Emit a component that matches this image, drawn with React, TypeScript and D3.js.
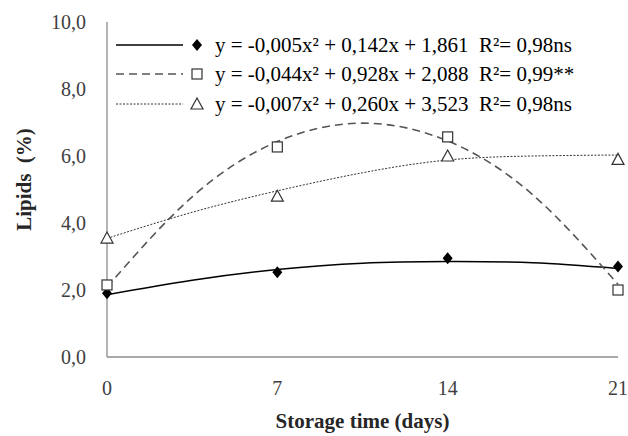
import * as d3 from 'd3';

// Storage days and measured lipid contents (%)
const days = [0, 7, 14, 21];
const seriesA = [1.9, 2.53, 2.95, 2.7]; // filled diamond
const seriesB = [2.15, 6.27, 6.57, 2.0]; // open square
const seriesC = [3.55, 4.8, 6.0, 5.9]; // open triangle

// Fitted curves
const fitDays = [0, 3.5, 7, 10.5, 14, 17.5, 21];
const fitA = [1.86, 2.29, 2.61, 2.8, 2.85, 2.81, 2.64];
const fitB = [2.09, 4.78, 6.43, 6.98, 6.45, 4.84, 2.17];
const fitC = [3.54, 4.32, 4.96, 5.5, 5.88, 6.0, 6.03];

const legendLabels = [
  'y = -0,005x² + 0,142x + 1,861  R²= 0,98ns',
  'y = -0,044x² + 0,928x + 2,088  R²= 0,99**',
  'y = -0,007x² + 0,260x + 3,523  R²= 0,98ns',
];
const yTicks = [0, 2, 4, 6, 8, 10];

const W = 628;
const H = 436;
const serif = { fontFamily: "'Liberation Serif'" };

const x = d3.scaleLinear().domain([0, 21]).range([107, 618]);
const y = d3.scaleLinear().domain([0, 10]).range([357, 22]);

const fitLine = d3
  .line<number>()
  .x((_, i) => x(fitDays[i]))
  .y((d) => y(d))
  .curve(d3.curveNatural);

const styles = [
  { fit: fitA, pts: seriesA, stroke: '#000', dash: undefined, width: 1.5 },
  { fit: fitB, pts: seriesB, stroke: '#555', dash: '8,5', width: 1.6 },
  { fit: fitC, pts: seriesC, stroke: '#333', dash: '2,1.5', width: 1 },
];

function Marker({ kind, cx, cy }: { kind: number; cx: number; cy: number }) {
  if (kind === 0)
    return <path d={`M${cx},${cy - 6}L${cx + 5},${cy}L${cx},${cy + 6}L${cx - 5},${cy}Z`} fill="#000" />;
  if (kind === 1)
    return (
      <rect x={cx - 5} y={cy - 5} width={10} height={10} fill="#fff" stroke="#333" strokeWidth={1.2} />
    );
  return (
    <path
      d={`M${cx},${cy - 6}L${cx + 6},${cy + 5}L${cx - 6},${cy + 5}Z`}
      fill="#fff"
      stroke="#333"
      strokeWidth={1.2}
    />
  );
}

const legendRows = [45, 74, 104];

export default function App() {
  return (
    <svg
      width={W}
      height={H}
      style={{ display: 'block', position: 'absolute', left: 0, top: 0, background: '#fff' }}
    >
      <style>{"text { font-family: 'Liberation Serif', 'Times New Roman', serif !important; }"}</style>
      {/* axes */}
      <line x1={x(0)} x2={x(0)} y1={y(10)} y2={y(0)} stroke="#8c8c8c" strokeWidth={1.3} />
      <line x1={x(0)} x2={x(21)} y1={y(0)} y2={y(0)} stroke="#8c8c8c" strokeWidth={1.3} />

      {yTicks.map((t) => (
        <text key={t} x={86} y={y(t) + 7} textAnchor="end" fill="#404040" fontSize={20} style={serif}>
          {d3.format('.1f')(t).replace('.', ',')}
        </text>
      ))}
      {days.map((d) => (
        <text key={d} x={x(d)} y={395} textAnchor="middle" fill="#404040" fontSize={20} style={serif}>
          {d}
        </text>
      ))}

      <text
        x={(x(0) + x(21)) / 2}
        y={428}
        textAnchor="middle"
        fontWeight="bold"
        fontSize={21}
        fill="#262626"
        style={serif}
      >
        Storage time (days)
      </text>
      <text
        transform={`translate(31,${(y(0) + y(10)) / 2 - 10}) rotate(-90)`}
        textAnchor="middle"
        fontWeight="bold"
        fontSize={21}
        fill="#262626"
        style={{ ...serif, whiteSpace: 'pre' }}
      >
        {'Lipids  (%)'}
      </text>

      {styles.map((s, k) => (
        <path
          key={k}
          d={fitLine(s.fit) ?? ''}
          fill="none"
          stroke={s.stroke}
          strokeWidth={s.width}
          strokeDasharray={s.dash}
        />
      ))}

      {styles.map((s, k) =>
        s.pts.map((v, i) => <Marker key={`${k}-${i}`} kind={k} cx={x(days[i])} cy={y(v)} />)
      )}

      {/* legend */}
      {styles.map((s, k) => (
        <g key={k}>
          <line
            x1={116}
            x2={183}
            y1={legendRows[k]}
            y2={legendRows[k]}
            stroke={s.stroke}
            strokeWidth={s.width}
            strokeDasharray={s.dash}
          />
          <Marker kind={k} cx={197} cy={legendRows[k]} />
          <text
            x={215}
            y={legendRows[k] + 7}
            fontSize={21}
            fill="#000"
            style={{ ...serif, whiteSpace: 'pre' }}
          >
            {legendLabels[k]}
          </text>
        </g>
      ))}
    </svg>
  );
}
